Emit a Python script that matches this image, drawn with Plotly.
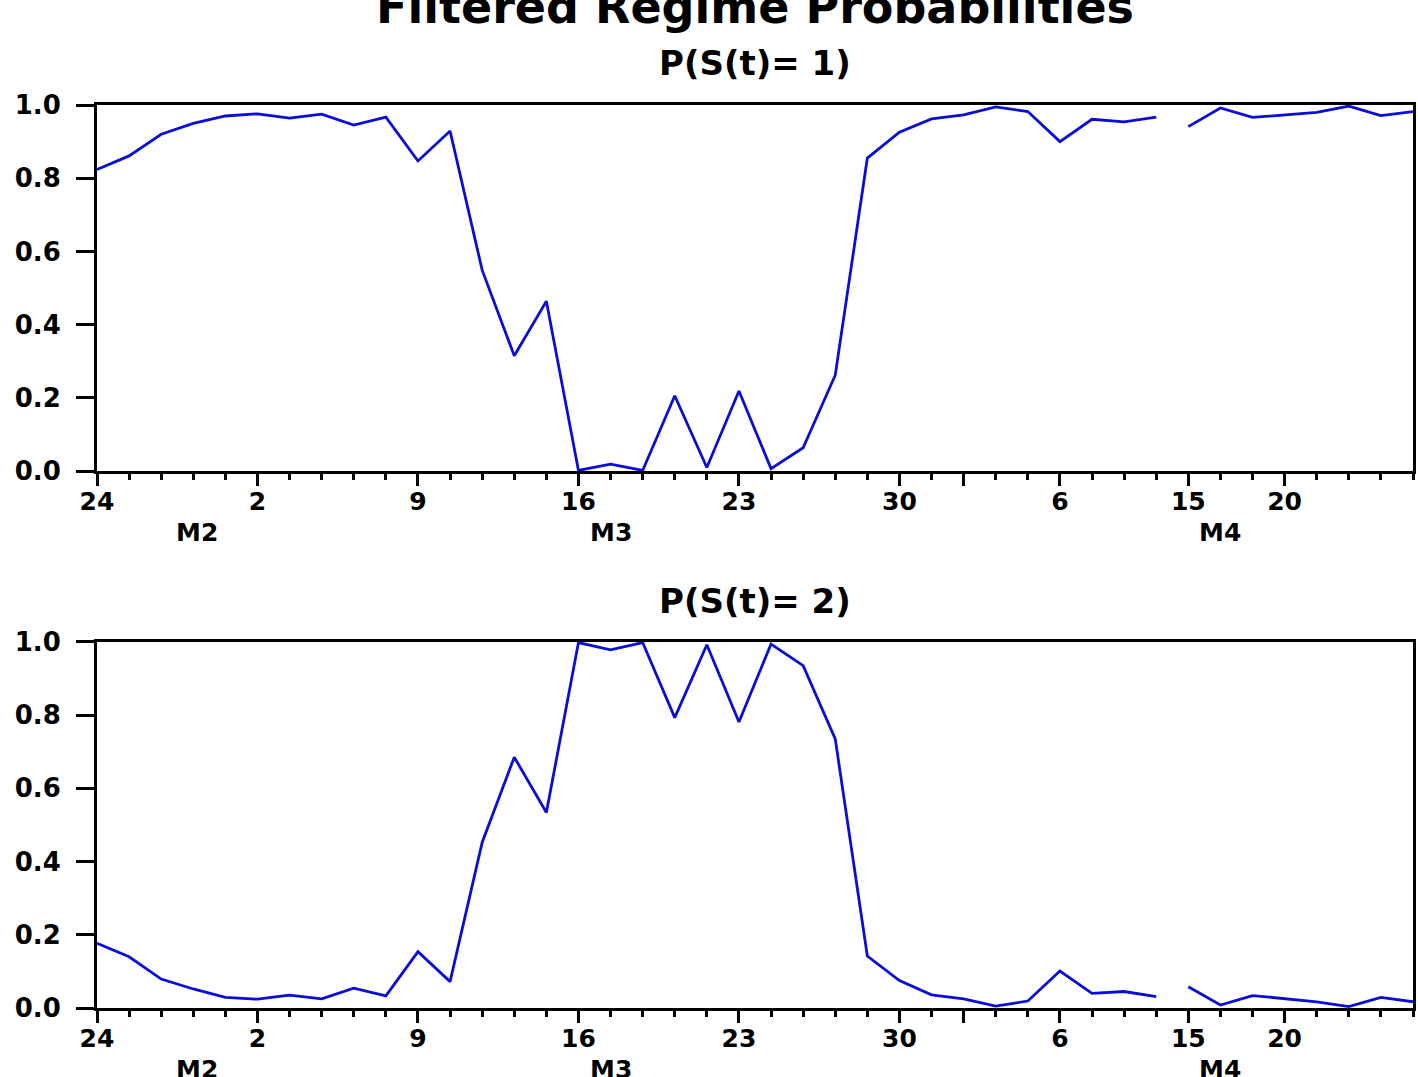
import plotly.graph_objects as go
from plotly.subplots import make_subplots

# observation dates (day of month), Feb 24 .. Apr 24
day_labels = ["24", "25", "26", "27", "28", "2", "3", "4", "5", "6",
              "9", "10", "11", "12", "13", "16", "17", "18", "19", "20",
              "23", "24", "25", "26", "27", "30", "31", "1", "2", "3",
              "6", "7", "8", "9", "15", "16", "17", "20", "21", "22",
              "23", "24"]

# filtered probabilities
p_regime1 = [0.824, 0.861, 0.920, 0.950, 0.970, 0.976, 0.964, 0.975, 0.945, 0.967,
             0.847, 0.929, 0.549, 0.315, 0.464, 0.002, 0.019, 0.002, 0.206, 0.010,
             0.219, 0.007, 0.064, 0.262, 0.855, 0.926, 0.962, 0.973, 0.995, 0.982,
             0.900, 0.961, 0.954, 0.967, 0.941, 0.992, 0.966, 0.974, 0.980, 0.997,
             0.971, 0.982]
p_regime2 = [0.177, 0.140, 0.079, 0.052, 0.029, 0.024, 0.035, 0.025, 0.054, 0.033,
             0.154, 0.072, 0.452, 0.685, 0.534, 0.998, 0.978, 0.998, 0.793, 0.992,
             0.781, 0.994, 0.935, 0.735, 0.142, 0.075, 0.036, 0.025, 0.005, 0.019,
             0.101, 0.040, 0.045, 0.031, 0.058, 0.008, 0.034, 0.025, 0.017, 0.004,
             0.029, 0.017]

# line is broken before this observation (missing dates)
gap_before = 34

# major ticks on the date axis and their labels
tick_obs = [0, 5, 10, 15, 20, 25, 27, 30, 34, 37]
tick_text = ["24", "2", "9", "16", "23", "30", "", "6", "15", "20"]

# month labels under the dates
month_names = ["M2", "M3", "M4"]
month_pos = [3.1, 16.0, 35.0]

FONT = "DejaVu Sans"
BLUE = "rgb(12,12,215)"


def with_gap(values):
    obs = list(range(len(values)))
    xs = obs[:gap_before] + [None] + obs[gap_before:]
    ys = values[:gap_before] + [None] + values[gap_before:]
    return xs, ys


fig = make_subplots(rows=2, cols=1, vertical_spacing=0.189)

for row, series in [(1, p_regime1), (2, p_regime2)]:
    xs, ys = with_gap(series)
    fig.add_trace(
        go.Scatter(x=xs, y=ys, mode="lines",
                   line=dict(color=BLUE, width=2.8),
                   connectgaps=False, showlegend=False),
        row=row, col=1
    )
    fig.update_xaxes(
        range=[0, len(series) - 1],
        tickmode="array", tickvals=tick_obs, ticktext=tick_text,
        ticks="outside", ticklen=12, tickwidth=3, tickcolor="black",
        minor=dict(tickmode="linear", tick0=0, dtick=1, ticks="outside",
                   ticklen=6, tickwidth=3, tickcolor="black"),
        showline=True, linewidth=3, linecolor="black", mirror=True,
        showgrid=False, zeroline=False,
        tickfont=dict(family=FONT, size=25, color="black", weight="bold"),
        ticklabelstandoff=-6,
        row=row, col=1
    )
    fig.update_yaxes(
        range=[0, 1], tickmode="array",
        tickvals=[0, 0.2, 0.4, 0.6, 0.8, 1.0],
        ticktext=["0.0", "0.2", "0.4", "0.6", "0.8", "1.0"],
        ticks="outside", ticklen=18, tickwidth=3, tickcolor="black",
        showline=True, linewidth=3, linecolor="black", mirror=True,
        showgrid=False, zeroline=False,
        tickfont=dict(family=FONT, size=26, color="black", weight="bold"),
        ticklabelstandoff=10,
        row=row, col=1
    )
    xref = "x" if row == 1 else "x2"
    yref = "y domain" if row == 1 else "y2 domain"
    for name, pos in zip(month_names, month_pos):
        fig.add_annotation(
            text=name, x=pos, y=0, xref=xref, yref=yref,
            xanchor="center", yanchor="middle", yshift=-61,
            showarrow=False,
            font=dict(family=FONT, size=25, color="black", weight="bold")
        )

fig.add_annotation(
    text="Filtered Regime Probabilities", x=0.5, y=1.108,
    xref="paper", yref="paper", xanchor="center", yanchor="middle",
    showarrow=False,
    font=dict(family=FONT, size=46, color="black", weight="bold")
)
for label, ypos in [("P(S(t)= 1)", 1.0465), ("P(S(t)= 2)", 0.4507)]:
    fig.add_annotation(
        text=label, x=0.5, y=ypos, xref="paper", yref="paper",
        xanchor="center", yanchor="middle", showarrow=False,
        font=dict(family=FONT, size=34, color="black", weight="bold")
    )

fig.update_layout(
    width=1418, height=1077,
    margin=dict(l=97, r=2, t=105, b=69),
    paper_bgcolor="white", plot_bgcolor="white",
    showlegend=False
)

# drop the default body margin so the figure sits flush in the window
fig.write_html("out.html", config={"displayModeBar": False},
               post_script="document.body.style.margin='0';")
